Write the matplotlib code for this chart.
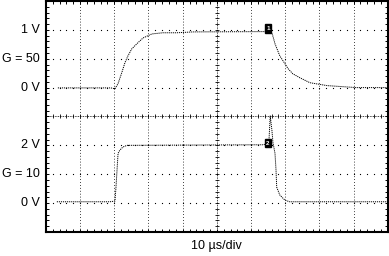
import numpy as np
import matplotlib
matplotlib.use("Agg")
import matplotlib.pyplot as plt

plt.rcParams['font.family'] = ['Liberation Sans', 'DejaVu Sans']

# Trace data in screen divisions (x: 0-10 div, y: 0-8 div)
ch1_x = [0.35, 1.90, 2.02, 2.11, 2.22, 2.31, 2.40, 2.51, 2.66, 2.84, 3.10, 3.42, 3.83, 4.30,
         6.40, 6.61, 6.70, 6.84, 6.99, 7.08, 7.22, 7.43, 7.72, 8.22, 9.09, 10.0]
ch1_y = [4.99, 4.99, 4.96, 5.14, 5.52, 5.86, 6.10, 6.34, 6.52, 6.72, 6.86, 6.90, 6.90, 6.93,
         6.94, 6.90, 6.52, 6.10, 5.83, 5.66, 5.48, 5.34, 5.17, 5.07, 5.00, 5.00]

ch2_x = [0.32, 1.87, 2.02, 2.05, 2.08, 2.11, 2.16, 2.25, 2.37, 6.35, 6.52, 6.56, 6.61,
         6.64, 6.70, 6.73, 6.75, 6.84, 6.99, 7.13, 10.0]
ch2_y = [1.045, 1.045, 1.07, 1.56, 2.14, 2.72, 2.83, 2.94, 3.00, 3.02, 3.07, 4.02, 3.52,
         3.10, 2.72, 2.14, 1.55, 1.28, 1.10, 1.045, 1.045]

# Channel markers (number, x, y)
marker_labels = ["1", "2"]
marker_x = [6.49, 6.49]
marker_y = [7.05, 3.07]

# Left side labels
side_labels = ["1 V", "G = 50", "0 V", "2 V", "G = 10", "0 V"]
side_y = [7, 6, 5, 3, 2, 1]

x_label = "10 µs/div"

fig = plt.figure(figsize=(3.89, 2.56), dpi=100)
ax = fig.add_axes([0.118, 0.094, 0.879, 0.902])
ax.set_xlim(0, 10)
ax.set_ylim(0, 8)

# graticule
for gx in range(1, 10):
    if gx == 5:
        continue
    ax.axvline(gx, color='black', lw=0.6, ls=(0, (1, 2.5)), zorder=1)
dots = np.arange(0.2, 10, 0.2)
for gy in range(1, 8):
    if gy == 4:
        continue
    ax.plot(dots, np.full_like(dots, gy), ls='none', marker='s', ms=0.8, color='black', mew=0, zorder=1)

# center axes with ticks
ax.axhline(4, color='black', lw=0.6, ls=(0, (1, 1)), zorder=1)
ax.axvline(5, color='black', lw=0.6, ls=(0, (1, 1)), zorder=1)
ax.plot(dots, np.full_like(dots, 4), ls='none', marker='|', ms=3, mew=0.6, color='black', zorder=1)
ydots = np.arange(0.2, 8, 0.2)
ax.plot(np.full_like(ydots, 5), ydots, ls='none', marker='_', ms=3, mew=0.6, color='black', zorder=1)

# traces
ax.plot(ch1_x, ch1_y, color='black', lw=0.7, ls=(0, (1.2, 0.9)), zorder=3)
ax.plot(ch2_x, ch2_y, color='black', lw=0.7, ls=(0, (1.2, 0.9)), zorder=3)

for lab, mx, my in zip(marker_labels, marker_x, marker_y):
    ax.text(mx, my, lab, color='white', fontsize=4.5, fontweight='bold', ha='center', va='center',
            zorder=4, bbox=dict(boxstyle='square,pad=0.25', fc='black', ec='black'))

for lab, sy in zip(side_labels, side_y):
    ax.text(-0.18, sy, lab, fontsize=9, ha='right', va='center', clip_on=False)

ax.set_xticks([])
ax.set_yticks([])
ax.set_xticks(np.arange(0, 10.01, 0.2), minor=True)
ax.set_yticks(np.arange(0, 8.01, 0.2), minor=True)
ax.tick_params(which='minor', direction='in', length=2, width=0.7, top=True, right=True,
               labelbottom=False, labelleft=False)
for sp in ax.spines.values():
    sp.set_linewidth(1.5)
ax.set_xlabel(x_label, fontsize=9, labelpad=6)

fig.savefig("out.png", dpi=100)
